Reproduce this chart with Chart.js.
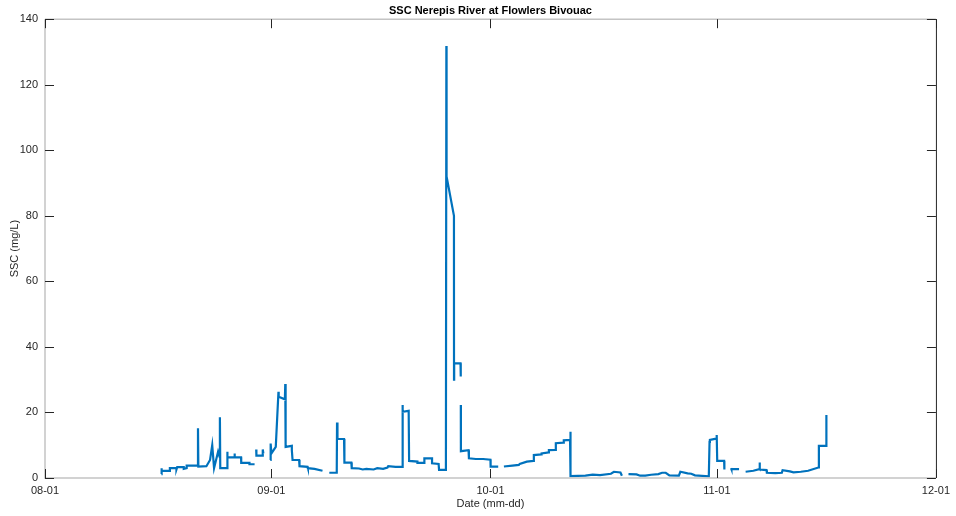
<!DOCTYPE html>
<html>
<head>
<meta charset="utf-8">
<script src="https://cdn.jsdelivr.net/npm/chart.js@4.4.1/dist/chart.umd.min.js"></script>
<style>
  html, body { margin: 0; padding: 0; background: #ffffff; }
  #wrap { width: 956px; height: 516px; }
</style>
</head>
<body>
<div id="wrap"><canvas id="sscChart" width="956" height="516"></canvas></div>
<script>
// days since 08-01 00:00, and SSC readings (null = gap in record)
var days = [
  15.94, 15.94, 16.0, 17.1, 17.1, 18.0, 18.0, 18.1, 19.0, 19.0, 19.4, 19.4, 20.9, 20.95, 21.0,
  22.1, 22.6, 22.9, 23.15, 23.7, 23.9, 23.95, 24.0, 24.96, 24.96, 25.0, 25.9, 25.95, 26.0,
  26.85, 26.87, 28.0, 28.0, 28.7, 28.8,
  28.92, 28.95, 29.8, 29.82, 29.9, 30.3,
  30.85, 30.9, 31.0, 31.6, 31.97, 32.0, 32.85, 32.9, 32.95, 33.8, 33.8, 33.9, 34.8, 34.85,
  35.95, 36.0, 36.9, 38.0, 38.5,
  38.93, 39.95, 39.99, 40.05, 40.95, 41.0, 41.95, 42.0, 43.0, 43.5, 44.0, 45.0, 45.5, 46.3,
  46.9, 47.0, 48.0, 48.9, 48.95, 49.0, 49.8, 49.86, 51.0, 51.0, 51.9, 51.95, 53.0, 53.0,
  53.9, 53.96, 54.9, 54.96, 54.98, 55.0, 56.0, 56.01, 56.03, 56.9, 56.93, 56.93,
  56.94, 56.95, 58.0, 58.05, 59.0, 60.0, 61.0, 61.02, 62.06, 62.4,
  62.84, 64.0, 64.89, 65.0, 65.98, 66.9, 66.94, 67.99, 68.0, 68.99, 69.0, 69.9, 69.95,
  71.0, 71.04, 71.9, 71.95, 71.97, 74.0, 75.0, 76.0, 77.5, 77.9, 78.8, 79.0, 79.4,
  79.9, 81.0, 81.5, 82.2, 83.0, 84.0, 84.5, 85.0, 85.5, 86.8, 87.0, 88.0, 88.5, 89.0,
  90.9, 91.0, 91.05, 91.9, 91.98, 92.05, 93.0, 93.03, 93.5,
  93.95, 94.0, 95.04, 95.5,
  95.94, 97.0, 97.8, 97.85, 97.9, 98.8, 98.85, 100.0, 100.9, 101.0, 102.0, 102.5, 103.5,
  104.5, 105.9, 105.97, 106.95, 107.0
];
var ssc = [
  1.2, 3.0, 2.2, 2.2, 3.0, 3.0, 2.6, 3.3, 3.3, 2.8, 3.0, 3.8, 3.8, 15.2, 3.5,
  3.6, 5.5, 10.0, 3.0, 8.0, 6.5, 18.5, 3.0, 3.0, 8.0, 6.3, 6.3, 7.5, 6.3,
  6.3, 4.6, 4.6, 4.2, 4.2, null,
  8.7, 6.8, 6.8, 8.7, 7.5, null,
  5.5, 10.5, 7.5, 9.5, 26.3, 24.8, 24.0, 28.7, 9.5, 9.8, 8.5, 5.5, 5.5, 3.6,
  3.4, 3.0, 2.8, 2.2, null,
  1.6, 1.6, 16.9, 11.9, 11.9, 4.7, 4.7, 3.0, 2.9, 2.6, 2.8, 2.6, 3.0, 2.8,
  3.2, 3.6, 3.4, 3.4, 22.3, 20.2, 20.5, 5.2, 5.0, 4.6, 4.6, 6.0, 6.0, 4.5,
  4.3, 2.5, 2.5, 131.8, 105.0, 92.0, 80.0, 30.0, 35.0, 35.0, 31.0, null,
  22.3, 8.2, 8.5, 6.0, 5.8, 5.8, 5.6, 3.5, 3.5, null,
  3.5, 3.8, 4.0, 4.3, 5.0, 5.2, 7.0, 7.2, 7.5, 7.8, 8.5, 8.6, 10.6,
  10.8, 11.5, 11.6, 14.1, 0.6, 0.7, 1.0, 0.9, 1.3, 1.9, 1.7, 0.7, null,
  1.2, 1.1, 0.7, 0.7, 1.0, 1.2, 1.6, 1.6, 0.8, 0.7, 1.9, 1.4, 1.3, 0.8,
  0.5, 11.0, 11.6, 12.0, 13.1, 5.2, 5.2, 2.6, null,
  3.0, 2.7, 2.7, null,
  1.9, 2.2, 2.7, 4.7, 2.6, 2.4, 1.6, 1.5, 1.6, 2.4, 2.0, 1.7, 1.9,
  2.2, 3.2, 9.8, 9.8, 19.2
];
var tickDays = [0, 31, 61, 92, 122];
var tickLabels = ['08-01', '09-01', '10-01', '11-01', '12-01'];
var yTicks = [0, 20, 40, 60, 80, 100, 120, 140];

var points = days.map(function (d, i) {
  return { x: d, y: ssc[i] };
});

var fontFamily = '"Liberation Sans", Arial, Helvetica, sans-serif';
var textColor = '#262626';

// MATLAB-like box with inward ticks on all four sides
var boxTicks = {
  id: 'boxTicks',
  afterDraw: function (chart) {
    var ctx = chart.ctx;
    var a = chart.chartArea;
    var xs = chart.scales.x;
    var ys = chart.scales.y;
    var len = 9;
    ctx.save();
    ctx.lineWidth = 1.5;
    ctx.strokeStyle = '#c4c4c4';
    ctx.beginPath();
    ctx.moveTo(a.left, a.top);
    ctx.lineTo(a.right, a.top);
    ctx.moveTo(a.left, a.top);
    ctx.lineTo(a.left, a.bottom);
    ctx.lineTo(a.right, a.bottom);
    ctx.stroke();
    ctx.lineWidth = 1;
    ctx.strokeStyle = textColor;
    ctx.beginPath();
    ctx.moveTo(a.right + 0.5, a.top);
    ctx.lineTo(a.right + 0.5, a.bottom);
    tickDays.forEach(function (d) {
      var px = Math.round(xs.getPixelForValue(d)) + 0.5;
      ctx.moveTo(px, a.bottom);
      ctx.lineTo(px, a.bottom - len);
      ctx.moveTo(px, a.top);
      ctx.lineTo(px, a.top + len);
    });
    yTicks.forEach(function (v) {
      var py = Math.round(ys.getPixelForValue(v)) + 0.5;
      ctx.moveTo(a.left, py);
      ctx.lineTo(a.left + len, py);
      ctx.moveTo(a.right, py);
      ctx.lineTo(a.right - len, py);
    });
    ctx.stroke();
    ctx.restore();
  }
};

var ctx = document.getElementById('sscChart');
var sscChart = new Chart(ctx, {
  type: 'line',
  data: {
    datasets: [{
      label: 'SSC',
      data: points,
      borderColor: '#0072BD',
      backgroundColor: '#0072BD',
      borderWidth: 2.2,
      pointRadius: 0,
      tension: 0,
      spanGaps: false
    }]
  },
  options: {
    responsive: false,
    animation: false,
    layout: { padding: { left: 0, right: 18, top: 0, bottom: 0 } },
    scales: {
      x: {
        type: 'linear',
        min: 0,
        max: 122,
        afterBuildTicks: function (scale) {
          scale.ticks = tickDays.map(function (d) { return { value: d }; });
        },
        afterFit: function (scale) { scale.height = 38; },
        grid: { display: false, drawTicks: false },
        border: { display: false },
        ticks: {
          autoSkip: false,
          maxRotation: 0,
          padding: 6,
          color: textColor,
          font: { family: fontFamily, size: 11 },
          callback: function (value) {
            var i = tickDays.indexOf(value);
            return i >= 0 ? tickLabels[i] : '';
          }
        },
        title: {
          display: true,
          text: 'Date (mm-dd)',
          color: textColor,
          font: { family: fontFamily, size: 11 },
          padding: { top: 0, bottom: 5 }
        }
      },
      y: {
        min: 0,
        max: 140,
        afterBuildTicks: function (scale) {
          scale.ticks = yTicks.map(function (v) { return { value: v }; });
        },
        afterFit: function (scale) { scale.width = 45; },
        grid: { display: false, drawTicks: false },
        border: { display: false },
        ticks: {
          padding: 7,
          color: textColor,
          font: { family: fontFamily, size: 11 }
        },
        title: {
          display: true,
          text: 'SSC (mg/L)',
          color: textColor,
          font: { family: fontFamily, size: 11 },
          padding: { top: 8, bottom: 0 }
        }
      }
    },
    plugins: {
      legend: { display: false },
      tooltip: { enabled: false },
      title: {
        display: true,
        fullSize: false,
        text: 'SSC Nerepis River at Flowlers Bivouac',
        color: '#000000',
        font: { family: fontFamily, size: 11, weight: 'bold' },
        padding: { top: 4, bottom: 2 }
      }
    }
  },
  plugins: [boxTicks]
});
</script>
</body>
</html>
